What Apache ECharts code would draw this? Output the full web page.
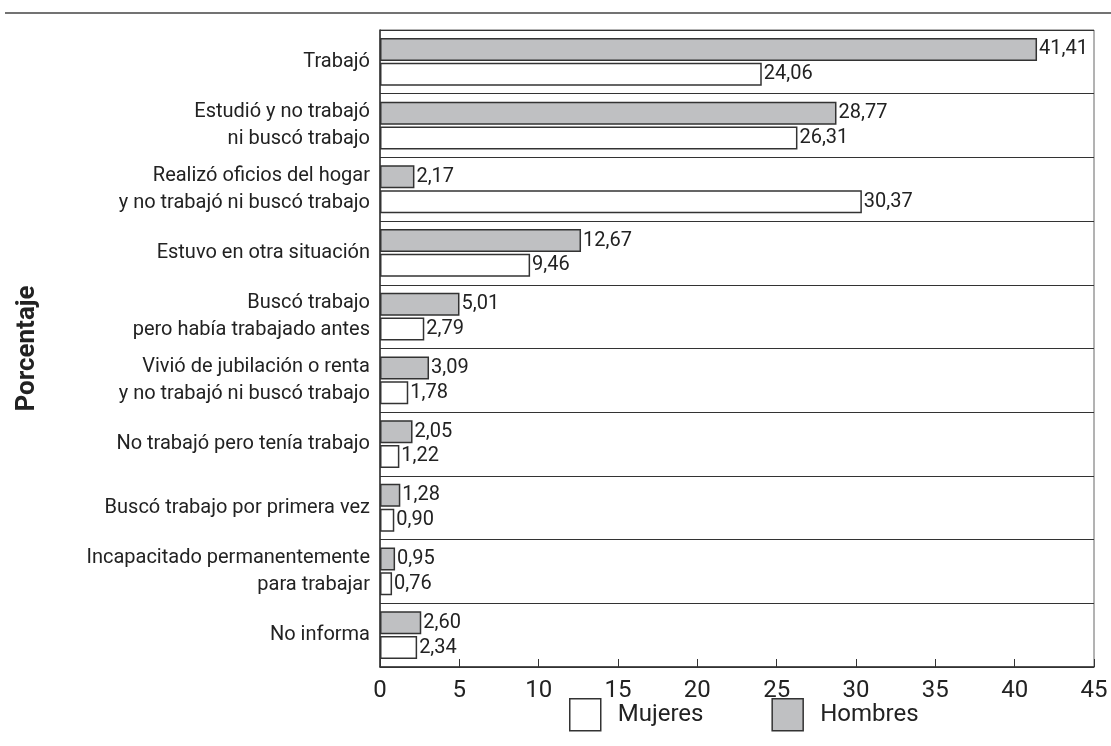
<!DOCTYPE html>
<html>
<head>
<meta charset="utf-8">
<script src="https://cdn.jsdelivr.net/npm/echarts@6/dist/echarts.min.js"></script>
<style>
  html, body { margin: 0; padding: 0; background: #fff; }
  #myChart { width: 1111px; height: 746px; }
</style>
</head>
<body>
<div id="myChart"></div>
<script>
// categorías (de arriba hacia abajo)
const categorias = [
  'Trabajó',
  'Estudió y no trabajó\nni buscó trabajo',
  'Realizó oficios del hogar\ny no trabajó ni buscó trabajo',
  'Estuvo en otra situación',
  'Buscó trabajo\npero había trabajado antes',
  'Vivió de jubilación o renta\ny no trabajó ni buscó trabajo',
  'No trabajó pero tenía trabajo',
  'Buscó trabajo por primera vez',
  'Incapacitado permanentemente\npara trabajar',
  'No informa'
];
const hombres = [41.41, 28.77, 2.17, 12.67, 5.01, 3.09, 2.05, 1.28, 0.95, 2.60];
const mujeres = [24.06, 26.31, 30.37, 9.46, 2.79, 1.78, 1.22, 0.90, 0.76, 2.34];
const ticksX = [0, 5, 10, 15, 20, 25, 30, 35, 40, 45];

const fuente = "Roboto, sans-serif";
let myChart = echarts.init(document.getElementById('myChart'));

function etiqueta(p) {
  return p.value.toFixed(2).replace('.', ',');
}

myChart.setOption({
  animation: false,
  textStyle: { fontFamily: fuente },
  grid: {
    left: 380, right: 17, top: 30, bottom: 79,
    show: true, borderColor: '#666', borderWidth: 1
  },
  legend: {
    data: ['Mujeres', 'Hombres'],
    top: 698,
    left: 569,
    padding: 0,
    icon: 'rect',
    itemWidth: 31,
    itemHeight: 32,
    itemGap: 68,
    itemStyle: { borderWidth: 1.5, borderColor: '#333' },
    textStyle: { fontSize: 24, color: '#222', fontFamily: fuente, padding: [0, 0, 0, 12] }
  },
  xAxis: {
    type: 'value',
    min: 0, max: 45, interval: 5,
    axisLine: { show: true, lineStyle: { color: '#333', width: 1.5 } },
    axisTick: { show: true, inside: true, length: 8, lineStyle: { color: '#333' } },
    axisLabel: {
      fontSize: 24, color: '#222', margin: 12, fontFamily: fuente,
      formatter: v => ticksX.includes(v) ? String(v) : ''
    },
    splitLine: { show: false }
  },
  yAxis: {
    type: 'category',
    data: categorias,
    inverse: true,
    name: 'Porcentaje',
    nameLocation: 'middle',
    nameRotate: 90,
    nameGap: 340,
    nameTextStyle: { fontSize: 26, fontWeight: 'bold', color: '#222', fontFamily: fuente },
    axisLine: { show: true, lineStyle: { color: '#333', width: 1.5 } },
    axisTick: { show: false },
    axisLabel: { fontSize: 20, color: '#222', lineHeight: 27, margin: 10, fontFamily: fuente },
    splitLine: { show: true, lineStyle: { color: '#333', width: 1 } }
  },
  series: [
    {
      name: 'Hombres',
      type: 'bar',
      data: hombres,
      barWidth: 23,
      barGap: '8%',
      itemStyle: { color: '#bfc0c2', borderColor: '#333', borderWidth: 1.5 },
      label: { show: true, position: 'right', distance: 2, fontSize: 20, color: '#222', formatter: etiqueta, fontFamily: fuente }
    },
    {
      name: 'Mujeres',
      type: 'bar',
      data: mujeres,
      barWidth: 23,
      itemStyle: { color: '#ffffff', borderColor: '#333', borderWidth: 1.5 },
      label: { show: true, position: 'right', distance: 2, fontSize: 20, color: '#222', formatter: etiqueta, fontFamily: fuente }
    }
  ],
  graphic: [
    { type: 'line', shape: { x1: 5, y1: 13, x2: 1111, y2: 13 }, style: { stroke: '#444', lineWidth: 1.5 } }
  ]
});
</script>
</body>
</html>
